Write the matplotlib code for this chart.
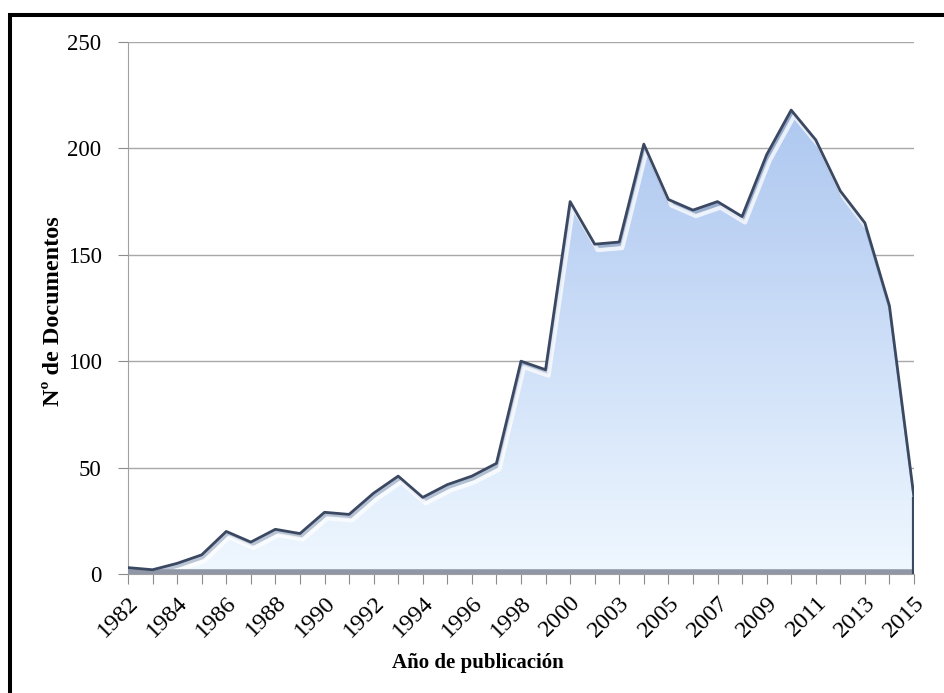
import numpy as np
import matplotlib.pyplot as plt
import matplotlib.transforms as mtransforms
from matplotlib.colors import LinearSegmentedColormap
from matplotlib.lines import Line2D

# datos (2001 no aparece en el eje)
years = [1982, 1983, 1984, 1985, 1986, 1987, 1988, 1989, 1990, 1991,
         1992, 1993, 1994, 1995, 1996, 1997, 1998, 1999, 2000, 2002,
         2003, 2004, 2005, 2006, 2007, 2008, 2009, 2010, 2011, 2012,
         2013, 2014, 2015]
documentos = [3, 2, 5, 9, 20, 15, 21, 19, 29, 28,
              38, 46, 36, 42, 46, 52, 100, 96, 175, 155,
              156, 202, 176, 171, 175, 168, 197, 218, 204, 180,
              165, 126, 36]
yticks = [0, 50, 100, 150, 200, 250]

plt.rcParams['font.family'] = ['Liberation Serif', 'DejaVu Serif']

fig = plt.figure(figsize=(9.44, 6.93), dpi=100)
ax = fig.add_axes([128 / 944, 119 / 693, 786 / 944, 532 / 693])
x = np.arange(len(years))

# area con degradado vertical recortado a la forma
area = ax.fill_between(x, 0, documentos, facecolor='none', edgecolor='none', zorder=2)
clip = area.get_paths()[0]
grad = np.linspace(0, 1, 256).reshape(-1, 1)
cmap = LinearSegmentedColormap.from_list('azul', ['#f0f8ff', '#d8e7fa', '#c2d6f5', '#aec8f0'])
img = ax.imshow(grad, extent=[x[0], x[-1], 0, max(documentos)], origin='lower',
                aspect='auto', cmap=cmap, zorder=2, interpolation='bilinear')
img.set_clip_path(clip, transform=ax.transData)

# sombra suave bajo el borde
shadow = mtransforms.ScaledTranslation(1 / 100, -2.5 / 100, fig.dpi_scale_trans)
sh, = ax.plot(x, documentos, color='#5d6d8a', lw=3, alpha=0.35,
              transform=ax.transData + shadow, zorder=3)
sh.set_clip_path(clip, transform=ax.transData)

# brillo blanco bajo el borde (efecto bisel)
shift = mtransforms.ScaledTranslation(3 / 100, -6 / 100, fig.dpi_scale_trans)
hl, = ax.plot(x, documentos, color='white', lw=3, alpha=0.75,
              transform=ax.transData + shift, zorder=3)
hl.set_clip_path(clip, transform=ax.transData)

# franja gris inferior
up = mtransforms.ScaledTranslation(0, 2.5 / 100, fig.dpi_scale_trans)
ax.plot([x[0], x[-1]], [0, 0], color='#8f97a6', lw=4, solid_capstyle='butt',
        transform=ax.transData + up, zorder=3)

# borde oscuro
ax.plot(x, documentos, color='#3b4862', lw=2, zorder=4)
ax.plot([x[-1], x[-1]], [documentos[-1], 0], color='#3b4862', lw=3,
        solid_capstyle='butt', zorder=4)

ax.set_xlim(x[0], x[-1])
ax.set_ylim(0, 250)
ax.set_yticks(yticks)
ax.yaxis.grid(True, color='#a8a8a8', lw=1)
ax.set_axisbelow(True)

ax.set_xticks(x)
ax.set_xticklabels([str(y) if i % 2 == 0 else '' for i, y in enumerate(years)],
                   rotation=45, ha='right', rotation_mode='anchor')

for s in ['top', 'right']:
    ax.spines[s].set_visible(False)
for s in ['left', 'bottom']:
    ax.spines[s].set_color('#a0a0a0')
ax.tick_params(direction='out', length=7, color='#8c8c8c')
ax.tick_params(axis='y', pad=12, labelsize=16.5)
ax.tick_params(axis='x', pad=6, labelsize=17.5)

fig.text(54 / 944, 1 - 311 / 693, 'Nº de Documentos', rotation=90, fontsize=17.5,
         fontweight='bold', ha='center', va='center')
fig.text(478 / 944, 1 - 663 / 693, 'Año de publicación', fontsize=15,
         fontweight='bold', ha='center', va='center')

# marco negro
fig.add_artist(Line2D([10.3 / 944, 10.3 / 944], [-0.05, 1 - 13.3 / 693],
                      color='black', lw=2.9, solid_capstyle='butt',
                      transform=fig.transFigure))
fig.add_artist(Line2D([8.3 / 944, 1.05], [1 - 15.3 / 693, 1 - 15.3 / 693],
                      color='black', lw=2.9, solid_capstyle='butt',
                      transform=fig.transFigure))

fig.savefig('out.png', dpi=100)
